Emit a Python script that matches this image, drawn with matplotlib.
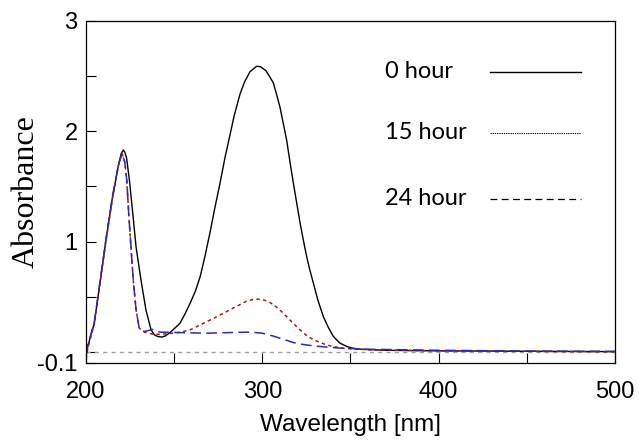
import matplotlib
matplotlib.use("Agg")
import matplotlib.pyplot as plt

# UV-vis absorbance spectra
wl_0h = [200, 201, 202.8, 204.7, 207.6, 211.3, 215.1, 218.5, 220, 221.2, 222, 223, 224.6, 226.5,
         228.4, 231.2, 234, 236.9, 238.8, 240.7, 243, 245, 247.6, 250, 253.3, 256, 259, 262,
         264.7, 267.5, 270.3, 273, 276, 278.8, 281.7, 284, 287.4, 290, 293, 296.8, 299, 302,
         304, 306.2, 308, 310, 313.8, 315.7, 317.6, 319.5, 321.4, 323.3, 325.2, 327, 329,
         331.5, 334.6, 337.5, 340.3, 344, 347.9, 351, 355.4, 370, 400, 430, 460, 500]
abs_0h = [-0.04, 0.05, 0.155, 0.26, 0.59, 1.015, 1.41, 1.7, 1.8, 1.83, 1.81, 1.76, 1.56, 1.26,
          0.95, 0.65, 0.38, 0.2, 0.155, 0.14, 0.135, 0.145, 0.175, 0.21, 0.26, 0.34, 0.44, 0.55,
          0.68, 0.87, 1.08, 1.3, 1.53, 1.76, 1.97, 2.14, 2.34, 2.45, 2.54, 2.59, 2.585, 2.55,
          2.5, 2.44, 2.34, 2.22, 1.92, 1.72, 1.53, 1.35, 1.17, 1.01, 0.86, 0.74, 0.62,
          0.47, 0.32, 0.22, 0.14, 0.08, 0.05, 0.035, 0.025, 0.015, 0.01, 0.008, 0.005, 0.003]

wl_15h = [200, 201, 202.8, 204.7, 207.6, 211.3, 215.1, 218.5, 220.4, 222, 223.1, 224.2, 225.5,
          226.8, 228.4, 230.2, 233.1, 238.2, 243, 249.5, 254, 259, 263.5, 268.5, 273, 277.9,
          282.5, 287.4, 291, 295.9, 300, 303, 306.2, 310, 313.8, 317.5, 321.4, 325, 329, 333,
          336.5, 340, 346, 360, 400, 450, 500]
abs_15h = [-0.06, 0.03, 0.14, 0.25, 0.58, 1.0, 1.4, 1.7, 1.8, 1.72, 1.56, 1.26, 0.95,
           0.65, 0.38, 0.215, 0.18, 0.16, 0.16, 0.17, 0.18, 0.2, 0.235, 0.275, 0.31, 0.35,
           0.39, 0.43, 0.46, 0.48, 0.475, 0.46, 0.43, 0.38, 0.32, 0.26, 0.2, 0.15, 0.11, 0.085,
           0.063, 0.05, 0.033, 0.02, 0.01, 0.006, 0.003]

wl_24h = [200, 201, 202.8, 204.7, 207.6, 211.3, 215.1, 218.5, 220.4, 222, 223.1, 224.2, 225.5,
          226.8, 228.4, 230.2, 233.1, 237.8, 240.5, 242, 255, 268.5, 280, 293, 300, 306, 312,
          317.6, 323, 329, 336, 344, 359, 400, 450, 500]
abs_24h = [-0.02, 0.06, 0.16, 0.27, 0.6, 1.02, 1.42, 1.7, 1.8, 1.72, 1.56, 1.26, 0.95,
           0.65, 0.38, 0.215, 0.185, 0.205, 0.185, 0.18, 0.175, 0.17, 0.175, 0.18, 0.17, 0.145,
           0.115, 0.085, 0.068, 0.055, 0.045, 0.035, 0.025, 0.015, 0.008, 0.005]

labels = ["0 hour", "15 hour", "24 hour"]

fig = plt.figure(figsize=(6.39, 4.41), dpi=100)
ax = fig.add_axes([0.1346, 0.1769, 0.8278, 0.7755])

ax.axhline(0, color="#a0a0a0", lw=1, dashes=(3, 3))
ax.plot(wl_0h, abs_0h, color="black", lw=1)
ax.plot(wl_15h, abs_15h, color="#a01818", lw=1.1, dashes=(2.2, 2.2))
ax.plot(wl_24h, abs_24h, color="#2a2ab4", lw=1.1, dashes=(7, 3.5))

ax.set_xlim(200, 500)
ax.set_ylim(-0.1, 3)
ax.set_xticks([200, 250, 300, 350, 400, 450, 500])
ax.set_xticklabels(["200", "", "300", "", "400", "", "500"])
ax.set_yticks([-0.1, 0, 0.5, 1, 1.5, 2, 2.5, 3])
ax.set_yticklabels(["-0.1", "", "", "1", "", "2", "", "3"])
ax.tick_params(direction="in", length=7, width=0.8, labelsize=17, pad=6)
ax.tick_params(axis="x", pad=13)
for lab in ax.get_xticklabels() + ax.get_yticklabels():
    lab.set_fontfamily("Liberation Sans")
for s in ax.spines.values():
    s.set_linewidth(0.9)

ax.set_xlabel("Wavelength [nm]", fontsize=17.5, family="Liberation Sans", labelpad=8)
ax.set_ylabel("Absorbance", fontsize=23, family="Liberation Serif")
ax.yaxis.set_label_coords(-0.086, 0.5)

# hand-made legend: text on the left, black sample line on the right
styles = [dict(lw=1), dict(lw=0.8, dashes=(1.1, 0.9)), dict(lw=0.9, dashes=(5.5, 3.5))]
rows = [0.851, 0.673, 0.480]
for lab, st, yy in zip(labels, styles, rows):
    ax.text(0.565, yy, lab, transform=ax.transAxes, ha="left", va="center",
            family="Lato", fontsize=17)
    ax.plot([0.764, 0.936], [yy, yy], transform=ax.transAxes, color="black", **st)

fig.savefig("out.png", dpi=100)
